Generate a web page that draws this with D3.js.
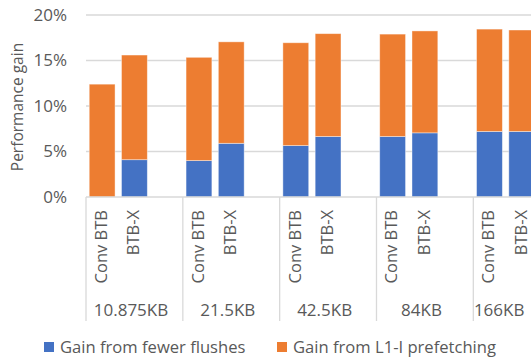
<!DOCTYPE html>
<html><head><meta charset="utf-8">
<script src="https://cdn.jsdelivr.net/npm/d3@7"></script>
<style>
body{margin:0;background:#fff;}
svg{display:block;font-family:"Open Sans",sans-serif;}
</style></head>
<body>
<svg id="c" width="531" height="360"></svg>
<script>
const groups = ["10.875KB","21.5KB","42.5KB","84KB","166KB"];
const configs = ["Conv BTB","BTB-X"];
const seriesNames = ["Gain from fewer flushes","Gain from L1-I prefetching"];
const colors = ["#4472C4","#ED7D31"];
// fewer flushes (blue), per group: [Conv BTB, BTB-X]
const flushes = [[0.0,4.1],[4.0,5.9],[5.65,6.65],[6.65,7.05],[7.2,7.2]];
// total gain (top of stack)
const totals = [[12.4,15.6],[15.35,17.05],[16.95,17.95],[17.9,18.25],[18.45,18.35]];
const yTicks = [0,5,10,15,20];

const svg = d3.select("#c");
const W = 531, H = 360;
const plotLeft = 86, groupW = 96.83, slotsPerGroup = 3;
const plotRight = plotLeft + groupW*groups.length;
const y = d3.scaleLinear().domain([0,20]).range([197,15]);
const xg = d3.scaleBand().domain(groups).range([plotLeft, plotRight]).paddingInner(0).paddingOuter(0);
const slots = d3.range(slotsPerGroup);
const xs = d3.scaleBand().domain(slots).range([0, xg.bandwidth()]).paddingInner(0.2).paddingOuter(0.1);
const textCol = "#595959", gridCol = "#D9D9D9";

// gridlines
svg.append("g").selectAll("line").data(yTicks.filter(d=>d>0)).join("line")
  .attr("x1", plotLeft).attr("x2", W).attr("y1", d=>y(d)).attr("y2", d=>y(d))
  .attr("stroke", gridCol).attr("stroke-width", 1.3);

// y tick labels
svg.append("g").selectAll("text").data(yTicks).join("text")
  .attr("x", 67).attr("y", d=>y(d)).attr("dy","0.35em").attr("text-anchor","end")
  .attr("fill", textCol).style("font-size","17px").text(d=>d+"%");

// y title
svg.append("text").attr("transform",`translate(18,107) rotate(-90)`)
  .attr("text-anchor","middle").attr("dy","0.35em").attr("fill",textCol).style("font-size","15.5px")
  .text("Performance gain");

// bars
const barData = [];
groups.forEach((g,gi)=>configs.forEach((c,ci)=>{
  barData.push({g, ci, s:0, y0:0, y1:flushes[gi][ci]});
  barData.push({g, ci, s:1, y0:flushes[gi][ci], y1:totals[gi][ci]});
}));
svg.append("g").selectAll("rect").data(barData.filter(d=>d.y1>d.y0)).join("rect")
  .attr("x", d=>xg(d.g)+xs(d.ci)).attr("width", xs.bandwidth())
  .attr("y", d=>y(d.y1)).attr("height", d=>y(d.y0)-y(d.y1))
  .attr("fill", d=>colors[d.s]).attr("stroke","#fff").attr("stroke-opacity",0.5).attr("stroke-width",0.8);

// axis line
svg.append("line").attr("x1",plotLeft).attr("x2",W).attr("y1",y(0)).attr("y2",y(0))
  .attr("stroke",gridCol).attr("stroke-width",1.3);
// group separators
svg.append("g").selectAll("line").data(groups.map(g=>xg(g)).concat([plotRight])).join("line")
  .attr("x1",d=>d).attr("x2",d=>d).attr("y1",y(0)).attr("y2",321)
  .attr("stroke",gridCol).attr("stroke-width",1.3);

// config labels
const lab = [];
groups.forEach(g=>configs.forEach((c,ci)=>lab.push({g,ci,c})));
svg.append("g").selectAll("text").data(lab).join("text")
  .attr("transform", d=>`translate(${xg(d.g)+xs(d.ci)+xs.bandwidth()/2 - 1},210) rotate(-90)`)
  .attr("text-anchor","end").attr("dy","0.35em").attr("fill",textCol).style("font-size","16.5px")
  .text(d=>d.c);

// group labels
svg.append("g").selectAll("text").data(groups).join("text")
  .attr("x", d=>{const a=xg(d), b=Math.min(xg(d)+xg.bandwidth(), W); return b < xg(d)+xg.bandwidth() ? (a+b)/2-3 : a+45;})
  .attr("y", 310).attr("dy","0.35em").attr("text-anchor","middle").attr("fill",textCol).style("font-size","17px")
  .text(d=>d);

// legend
const legX = [44, 277];
const lg = svg.append("g").selectAll("g").data(seriesNames).join("g")
  .attr("transform",(d,i)=>`translate(${legX[i]},342)`);
lg.append("rect").attr("width",10).attr("height",10).attr("fill",(d,i)=>colors[i]);
lg.append("text").attr("x",16).attr("y",5).attr("dy","0.35em").attr("fill",textCol).style("font-size","16.6px").text(d=>d);
</script>
</body></html>
